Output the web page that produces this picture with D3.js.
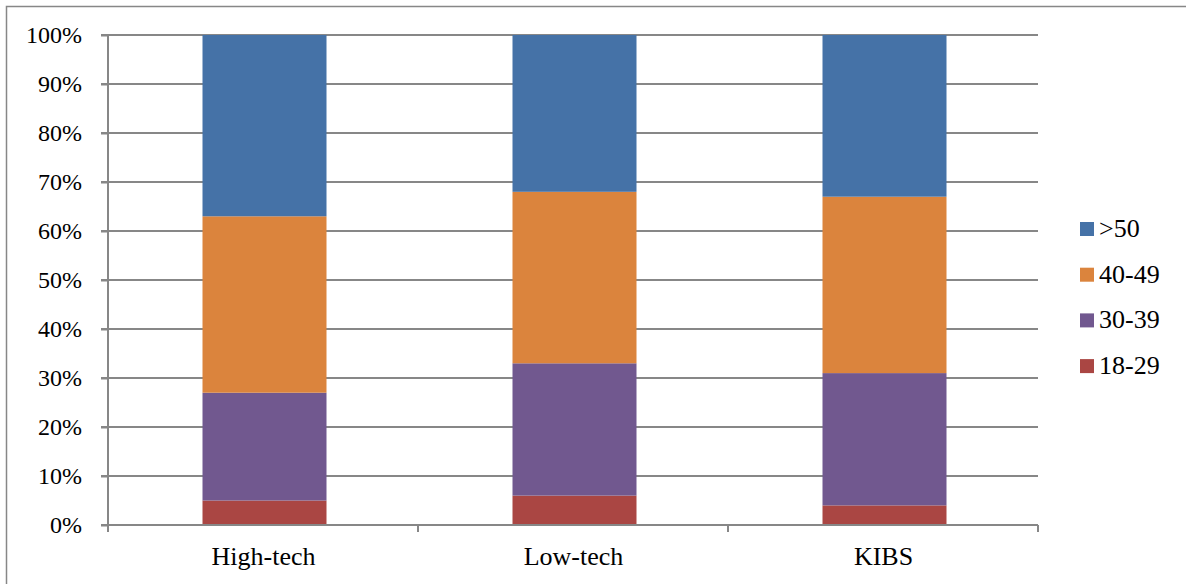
<!DOCTYPE html>
<html>
<head>
<meta charset="utf-8">
<script src="https://cdn.jsdelivr.net/npm/d3@7"></script>
<style>
  html, body { margin: 0; padding: 0; background: #fff; }
  svg { display: block; }
  svg text { font-family: "Liberation Serif", "Times New Roman", Tinos, "DejaVu Serif", serif !important; fill: #000; }
</style>
</head>
<body>
<svg id="chart" width="1186" height="584"></svg>
<script>
// Age groups of employees by sector (share of total, %)
const categories = ["High-tech", "Low-tech", "KIBS"];
const ageGroups = ["18-29", "30-39", "40-49", ">50"];
const age18to29 = [5, 6, 4];
const age30to39 = [22, 27, 27];
const age40to49 = [36, 35, 36];
const age50plus = [37, 32, 33];
const yTicks = [0, 10, 20, 30, 40, 50, 60, 70, 80, 90, 100];
const colors = ["#AA4643", "#71588F", "#DB843D", "#4572A7"];

const seriesValues = [age18to29, age30to39, age40to49, age50plus];
const rows = categories.map((c, i) => {
  const r = { category: c };
  ageGroups.forEach((g, k) => { r[g] = seriesValues[k][i]; });
  return r;
});

const svg = d3.select("#chart");
const gridColor = "#878787";
const serif = '"Liberation Serif", "Times New Roman", Tinos, "DejaVu Serif", serif';

// Outer frame (extends past the right and bottom edges)
svg.append("rect")
  .attr("x", 6.5).attr("y", 6.5)
  .attr("width", 1300).attr("height", 700)
  .attr("fill", "none").attr("stroke", gridColor).attr("stroke-width", 1.5);

const plot = { left: 108, right: 1038, top: 35, bottom: 525 };

const x = d3.scaleBand()
  .domain(categories)
  .range([plot.left, plot.right])
  .paddingInner(0.6)
  .paddingOuter(0.3);

const y = d3.scaleLinear()
  .domain([0, 100])
  .range([plot.bottom, plot.top]);

const color = d3.scaleOrdinal().domain(ageGroups).range(colors);

// Horizontal gridlines with left tick stubs
svg.append("g")
  .selectAll("line")
  .data(yTicks.filter(t => t > 0))
  .join("line")
  .attr("x1", plot.left - 7).attr("x2", plot.right)
  .attr("y1", d => y(d)).attr("y2", d => y(d))
  .attr("stroke", gridColor).attr("stroke-width", 2);

// Stacked bars
const stacked = d3.stack().keys(ageGroups)(rows);
svg.append("g")
  .selectAll("g")
  .data(stacked)
  .join("g")
  .attr("fill", d => color(d.key))
  .selectAll("rect")
  .data(d => d)
  .join("rect")
  .attr("x", d => x(d.data.category) + 1.5)
  .attr("width", x.bandwidth())
  .attr("y", d => y(d[1]))
  .attr("height", d => y(d[0]) - y(d[1]));

// Y axis
const yAxis = svg.append("g")
  .attr("transform", `translate(${plot.left},0)`)
  .call(d3.axisLeft(y).tickValues(yTicks).tickFormat(d => d + "%").tickSize(7).tickPadding(19))
  .attr("font-family", serif);
yAxis.select(".domain").attr("stroke", gridColor).attr("stroke-width", 2)
  .attr("d", `M0,${plot.top}V${plot.bottom + 7}`);
yAxis.selectAll(".tick line").attr("stroke", gridColor).attr("stroke-width", 2);
yAxis.selectAll(".tick text").attr("font-size", 24).attr("fill", "#000");

// X axis with boundary ticks between categories
const boundaries = d3.range(categories.length + 1).map(i => plot.left + i * (plot.right - plot.left) / categories.length);
const xg = svg.append("g").attr("font-family", serif);
xg.append("line")
  .attr("x1", plot.left - 7).attr("x2", plot.right)
  .attr("y1", plot.bottom).attr("y2", plot.bottom)
  .attr("stroke", gridColor).attr("stroke-width", 2);
xg.selectAll("line.tick")
  .data(boundaries)
  .join("line")
  .attr("class", "tick")
  .attr("x1", d => d).attr("x2", d => d)
  .attr("y1", plot.bottom).attr("y2", plot.bottom + 7)
  .attr("stroke", gridColor).attr("stroke-width", 2);
xg.selectAll("text")
  .data(categories)
  .join("text")
  .attr("x", d => x(d) + x.bandwidth() / 2 + 0.5)
  .attr("y", 565)
  .attr("text-anchor", "middle")
  .attr("font-size", 26)
  .text(d => d);

// Legend (top-down: >50, 40-49, 30-39, 18-29)
const legendItems = ageGroups.slice().reverse();
const legend = svg.append("g").attr("transform", "translate(1080,222)").attr("font-family", serif);
const li = legend.selectAll("g")
  .data(legendItems)
  .join("g")
  .attr("transform", (d, i) => `translate(0,${i * 45.7})`);
li.append("rect")
  .attr("width", 14).attr("height", 14)
  .attr("fill", d => color(d));
li.append("text")
  .attr("x", 19).attr("y", 15)
  .attr("font-size", 26)
  .text(d => d);
</script>
</body>
</html>
